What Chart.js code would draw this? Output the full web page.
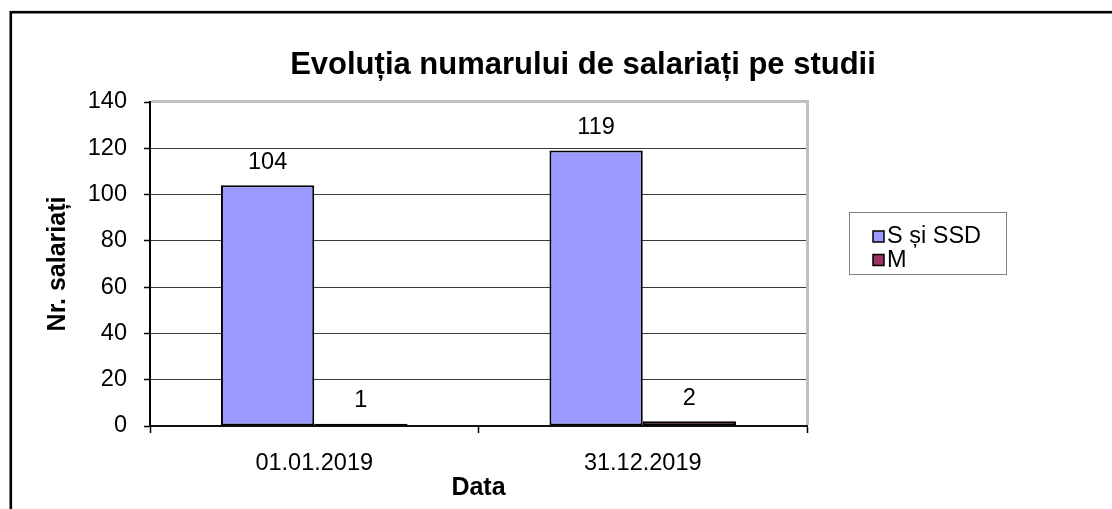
<!DOCTYPE html>
<html>
<head>
<meta charset="utf-8">
<script src="https://cdn.jsdelivr.net/npm/chart.js@4.4.1/dist/chart.umd.min.js"></script>
<style>
  html, body { margin: 0; padding: 0; background: #ffffff; }
  #wrap { width: 1112px; height: 509px; position: relative; }
  canvas { display: block; }
</style>
</head>
<body>
<div id="wrap"><canvas id="c" width="1112" height="509"></canvas></div>
<script>
// Chart content
const chartTitle = 'Evoluția numarului de salariați pe studii';
const categories = ['01.01.2019', '31.12.2019'];
const seriesNames = ['S și SSD', 'M'];
const seriesSSD = [104, 119];
const seriesM = [1, 2];
const yTickValues = [0, 20, 40, 60, 80, 100, 120, 140];
const xAxisTitle = 'Data';
const yAxisTitle = 'Nr. salariați';
const seriesColors = ['#9999FF', '#993366'];

const FONT = "'Liberation Sans', Arial, sans-serif";
const TEXT_SIZE = 23.5;

// Title, legend, value labels, plot frame and outer frame
const decor = {
  id: 'decor',
  beforeDraw(chart) {
    const ctx = chart.ctx;
    ctx.save();
    ctx.fillStyle = '#ffffff';
    ctx.fillRect(0, 0, chart.width, chart.height);
    ctx.restore();
  },
  beforeDatasetsDraw(chart) {
    const ctx = chart.ctx;
    const a = chart.chartArea;
    ctx.save();
    ctx.strokeStyle = '#c0c0c0';
    ctx.lineWidth = 3;
    ctx.beginPath();
    ctx.moveTo(a.left + 1, a.top - 0.5);
    ctx.lineTo(a.right + 0.5, a.top - 0.5);
    ctx.lineTo(a.right + 0.5, a.bottom - 1);
    ctx.stroke();
    ctx.restore();
  },
  afterDatasetsDraw(chart) {
    const ctx = chart.ctx;
    ctx.save();
    ctx.fillStyle = '#000000';
    ctx.font = TEXT_SIZE + "px " + FONT;
    ctx.textAlign = 'center';
    ctx.textBaseline = 'middle';
    chart.data.datasets.forEach((ds, i) => {
      const meta = chart.getDatasetMeta(i);
      meta.data.forEach((bar, j) => {
        const p = bar.getProps(['x', 'y'], true);
        ctx.fillText(String(ds.data[j]), p.x, p.y - 23);
      });
    });
    ctx.restore();
  },
  afterDraw(chart) {
    const ctx = chart.ctx;
    ctx.save();
    // chart title
    ctx.fillStyle = '#000000';
    ctx.font = "bold 31px " + FONT;
    ctx.textAlign = 'center';
    ctx.textBaseline = 'middle';
    ctx.fillText(chartTitle, 583, 65);

    // legend
    const lx = 849, ly = 212, lw = 157, lh = 62;
    ctx.strokeStyle = '#808080';
    ctx.lineWidth = 1;
    ctx.strokeRect(lx + 0.5, ly + 0.5, lw, lh);
    ctx.font = TEXT_SIZE + "px " + FONT;
    ctx.textAlign = 'left';
    chart.data.datasets.forEach((ds, i) => {
      const cy = 236 + i * 23.5;
      ctx.fillStyle = ds.backgroundColor;
      ctx.fillRect(873, cy - 5, 11, 11);
      ctx.strokeStyle = '#000000';
      ctx.lineWidth = 1.5;
      ctx.strokeRect(873, cy - 5, 11, 11);
      ctx.fillStyle = '#000000';
      ctx.fillText(ds.label, 887, cy + 1);
    });

    // outer frame
    ctx.strokeStyle = '#000000';
    ctx.lineWidth = 2.6;
    ctx.strokeRect(10.8, 12.2, 1300, 700);
    ctx.restore();
  }
};

new Chart(document.getElementById('c'), {
  type: 'bar',
  data: {
    labels: categories,
    datasets: [
      {
        label: seriesNames[0],
        data: seriesSSD,
        backgroundColor: seriesColors[0],
        borderColor: '#000000',
        borderWidth: 2,
        borderSkipped: false
      },
      {
        label: seriesNames[1],
        data: seriesM,
        backgroundColor: seriesColors[1],
        borderColor: '#000000',
        borderWidth: 2,
        borderSkipped: false
      }
    ]
  },
  options: {
    responsive: false,
    animation: false,
    devicePixelRatio: 1,
    layout: { padding: { top: 102, right: 305, bottom: 0, left: 0 } },
    datasets: { bar: { categoryPercentage: 0.568, barPercentage: 1.0 } },
    plugins: {
      legend: { display: false },
      title: { display: false },
      tooltip: { enabled: false }
    },
    scales: {
      x: {
        afterFit(scale) { scale.height = 83; },
        grid: {
          offset: true,
          drawOnChartArea: false,
          drawTicks: true,
          tickLength: 7,
          tickColor: '#000000',
          tickWidth: 1.5
        },
        border: { display: true, color: '#111111', width: 2 },
        ticks: {
          color: '#000000',
          font: { family: FONT, size: TEXT_SIZE },
          padding: 16,
          maxRotation: 0
        },
        title: {
          display: true,
          text: xAxisTitle,
          color: '#000000',
          font: { family: FONT, size: 25, weight: 'bold' },
          padding: { top: 0, bottom: 6 }
        }
      },
      y: {
        min: yTickValues[0],
        max: yTickValues[yTickValues.length - 1],
        afterFit(scale) { scale.width = 150; },
        afterBuildTicks(scale) { scale.ticks = yTickValues.map(v => ({ value: v })); },
        grid: {
          color: '#3a3a3a',
          lineWidth: 1,
          drawTicks: true,
          tickLength: 6,
          tickColor: '#000000',
          tickWidth: 1.5
        },
        border: { display: true, color: '#000000', width: 2 },
        ticks: {
          color: '#000000',
          font: { family: FONT, size: TEXT_SIZE },
          padding: 17
        },
        title: {
          display: true,
          text: yAxisTitle,
          color: '#000000',
          font: { family: FONT, size: 25, weight: 'bold' },
          padding: { top: 43, bottom: 0 }
        }
      }
    }
  },
  plugins: [decor]
});
</script>
</body>
</html>
